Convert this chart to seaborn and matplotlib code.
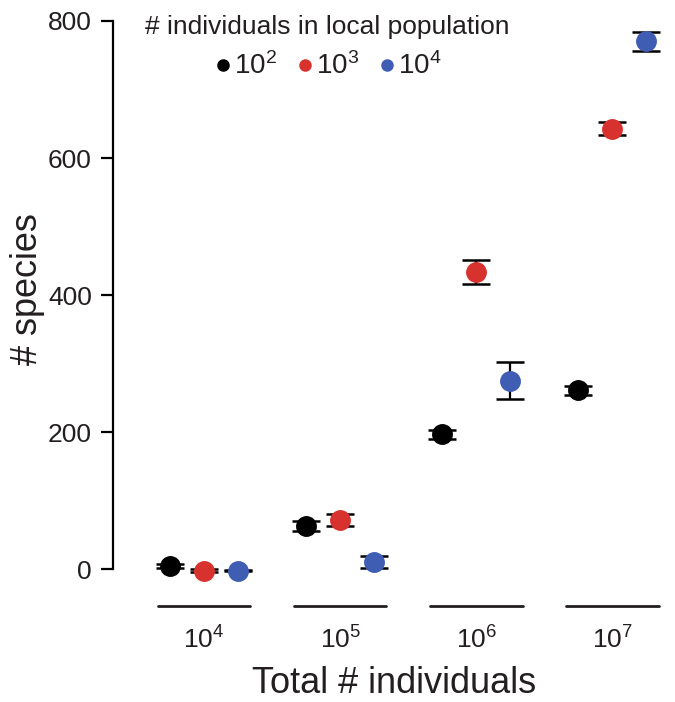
import matplotlib
matplotlib.use('Agg')
import matplotlib.pyplot as plt
import matplotlib.transforms as mtransforms
from matplotlib.lines import Line2D
import seaborn as sns
import numpy as np
import pandas as pd

# data
total_labels = ['$10^{4}$', '$10^{5}$', '$10^{6}$', '$10^{7}$']
local_labels = ['$10^{2}$', '$10^{3}$', '$10^{4}$']
species_1e2 = [5, 63, 197, 261]
species_1e3 = [-2, 72, 434, 643]
species_1e4 = [-2, 11, 275, 770]
err_1e2 = [3, 7, 7, 7]
err_1e3 = [2, 9, 18, 9]
err_1e4 = [1, 9, 27, 14]
colors = ['#000000', '#d7322e', '#3f5db3']
ink = '#231f20'

sns.set_style('white')
plt.rcParams['font.family'] = ['Liberation Sans', 'DejaVu Sans']
plt.rcParams['mathtext.fontset'] = 'custom'
plt.rcParams['mathtext.rm'] = 'Liberation Sans'
plt.rcParams['mathtext.it'] = 'Liberation Sans'
plt.rcParams['text.color'] = ink

rows = []
for lab, vals, errs in zip(local_labels, [species_1e2, species_1e3, species_1e4],
                           [err_1e2, err_1e3, err_1e4]):
    for t, v, e in zip(total_labels, vals, errs):
        rows.append({'total': t, 'local': lab, 'species': v, 'err': e})
df = pd.DataFrame(rows)

fig = plt.figure(figsize=(6.75, 7.02), dpi=100)
ax = fig.add_axes([0.167, 0.14, 0.833, 0.84])

dodge = 0.5
offsets = np.linspace(-dodge / 2, dodge / 2, len(local_labels))
for k, lab in enumerate(local_labels):
    sub = df[df['local'] == lab]
    xs = np.arange(len(total_labels)) + offsets[k]
    ax.errorbar(xs, sub['species'], yerr=sub['err'], fmt='none', ecolor='black',
                elinewidth=1.6, capsize=10, capthick=1.8, zorder=2)

sns.pointplot(data=df, x='total', y='species', hue='local', order=total_labels,
              hue_order=local_labels, palette=colors, dodge=dodge, linestyle='none',
              errorbar=None, markers='o', markersize=13, ax=ax, zorder=3, legend=False)

ax.set_xlim(-0.67, 3.46)
ax.set_ylim(-50, 810)
ax.set_yticks([0, 200, 400, 600, 800])
ax.tick_params(axis='y', direction='out', length=9, width=1.6, labelsize=19,
               colors='black', labelcolor=ink, pad=6, left=True)
ax.tick_params(axis='x', length=0, labelsize=19, labelcolor=ink, pad=16)
for s in ['top', 'right', 'bottom']:
    ax.spines[s].set_visible(False)
ax.spines['left'].set_bounds(0, 800)
ax.spines['left'].set_linewidth(1.6)
ax.spines['left'].set_color('black')

# group underlines in place of the x axis
trans = mtransforms.blended_transform_factory(ax.transData, ax.transAxes)
for i in range(len(total_labels)):
    ax.plot([i - 0.34, i + 0.34], [-0.004, -0.004], color=ink, lw=2,
            transform=trans, clip_on=False)

ax.set_xlabel('Total # individuals', fontsize=26, color=ink, labelpad=9)
ax.set_ylabel('# species', fontsize=26, color=ink)
ax.yaxis.set_label_coords(-0.12, 0.534)

handles = [Line2D([], [], marker='o', linestyle='none', color=c, markersize=8)
           for c in colors]
leg = ax.legend(handles, local_labels, title='# individuals in local population',
                ncol=3, frameon=False, loc='upper center',
                bbox_to_anchor=(327 / 675, 1.003), bbox_transform=fig.transFigure,
                fontsize=20, title_fontsize=19, handletextpad=0.0,
                columnspacing=0.6, handlelength=0.8, borderaxespad=0.2)

fig.savefig('out.png', dpi=100)
